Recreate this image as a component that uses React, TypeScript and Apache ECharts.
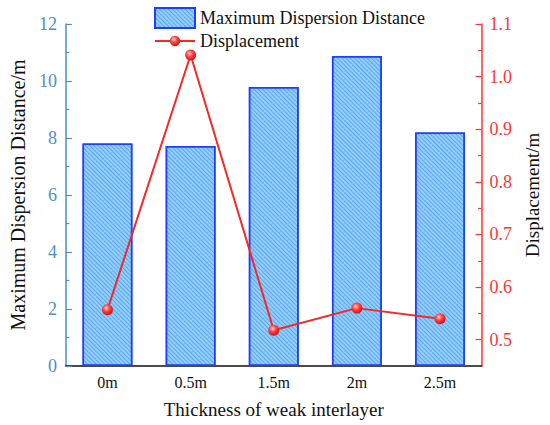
import React, { useEffect, useRef } from "react";
import * as echarts from "echarts";

const categories = ["0m", "0.5m", "1.5m", "2m", "2.5m"];
const dispersionDistance = [7.81, 7.72, 9.79, 10.88, 8.19];
const displacement = [0.557, 1.041, 0.518, 0.56, 0.54];
const rightMajorTicks = [0.5, 0.6, 0.7, 0.8, 0.9, 1.0, 1.1];
const rightMinorTicks = [0.55, 0.65, 0.75, 0.85, 0.95, 1.05];

const FONT = "Liberation Serif";
const LEFT_COLOR = "#4f8fc4";
const RIGHT_COLOR = "#ff3535";

export default function App() {
  const ref = useRef<HTMLDivElement>(null);
  useEffect(() => {
    if (!ref.current) return;
    const chart = echarts.init(ref.current, undefined, { renderer: "svg" });
    chart.setOption({
      animation: false,
      backgroundColor: "#ffffff",
      textStyle: { fontFamily: FONT },
      grid: { left: 62, right: 65, top: 24, bottom: 59 },
      legend: [
        {
          orient: "vertical",
          left: 154,
          top: 7,
          padding: 0,
          itemWidth: 40,
          itemHeight: 20,
          textStyle: { fontSize: 18, fontFamily: FONT, color: "#111" },
          data: [{ name: "Maximum Dispersion Distance", icon: "rect" }],
        },
        {
          orient: "vertical",
          left: 154,
          top: 32,
          padding: 0,
          itemWidth: 40,
          itemHeight: 13,
          textStyle: { fontSize: 18, fontFamily: FONT, color: "#111" },
          data: ["Displacement"],
        },
      ],
      xAxis: [
        {
          type: "category",
          data: categories,
          position: "bottom",
          name: "Thickness of weak interlayer",
          nameLocation: "middle",
          nameGap: 34,
          nameTextStyle: { fontSize: 19, fontFamily: FONT, color: "#111" },
          axisLine: { onZero: false, lineStyle: { color: "#111", width: 1.5 } },
          axisTick: { inside: true, alignWithLabel: true, length: 7, lineStyle: { color: "#111", width: 1.2 } },
          axisLabel: { fontSize: 16, fontFamily: FONT, color: "#111", margin: 8 },
          splitLine: { show: false },
        },
        {
          type: "category",
          data: categories,
          position: "bottom",
          axisLine: { show: false, onZero: false },
          axisTick: { inside: true, alignWithLabel: false, length: 4, lineStyle: { color: "#111", width: 1.2 } },
          axisLabel: { show: false },
          splitLine: { show: false },
        },
      ],
      yAxis: [
        {
          type: "value",
          position: "left",
          min: 0,
          max: 12,
          interval: 2,
          name: "Maximum Dispersion Distance/m",
          nameLocation: "middle",
          nameGap: 37,
          nameTextStyle: { fontSize: 20, fontFamily: FONT, color: "#111" },
          axisLine: { show: true, lineStyle: { color: LEFT_COLOR, width: 1.5 } },
          axisTick: { show: true, inside: true, length: 6, lineStyle: { color: LEFT_COLOR, width: 1.2 } },
          minorTick: { show: true, splitNumber: 2, length: 3.5, lineStyle: { color: LEFT_COLOR, width: 1.2 } },
          axisLabel: { fontSize: 18, fontFamily: FONT, color: LEFT_COLOR, margin: 9 },
          splitLine: { show: false },
        },
        {
          type: "value",
          position: "right",
          min: 0.45,
          max: 1.1,
          name: "Displacement/m",
          nameLocation: "middle",
          nameRotate: 90,
          nameGap: 40,
          nameTextStyle: { fontSize: 19, fontFamily: FONT, color: "#111" },
          axisLine: { show: true, lineStyle: { color: RIGHT_COLOR, width: 1.5 } },
          axisTick: { show: true, inside: true, length: 6, customValues: rightMajorTicks, lineStyle: { color: RIGHT_COLOR, width: 1.2 } },
          axisLabel: {
            fontSize: 18,
            fontFamily: FONT,
            color: RIGHT_COLOR,
            margin: 8,
            customValues: rightMajorTicks,
            formatter: (v: number) => v.toFixed(1),
          },
          splitLine: { show: false },
        },
        {
          type: "value",
          position: "right",
          min: 0.45,
          max: 1.1,
          axisLine: { show: false },
          axisTick: { show: true, inside: true, length: 3.5, customValues: rightMinorTicks, lineStyle: { color: RIGHT_COLOR, width: 1.2 } },
          axisLabel: { show: false },
          splitLine: { show: false },
        },
      ],
      series: [
        {
          name: "Maximum Dispersion Distance",
          type: "bar",
          xAxisIndex: 0,
          yAxisIndex: 0,
          barWidth: "60%",
          data: dispersionDistance,
          itemStyle: {
            color: "#90cefb",
            borderColor: "#1f3dff",
            borderWidth: 1.5,
            decal: {
              symbol: "rect",
              symbolSize: 1,
              dashArrayX: [1, 0],
              dashArrayY: [1, 2],
              rotation: Math.PI / 4,
              color: "rgba(45,115,215,0.45)",
            },
          },
          z: 2,
        },
        {
          name: "Displacement",
          type: "line",
          xAxisIndex: 0,
          yAxisIndex: 1,
          data: displacement,
          symbol: "circle",
          symbolSize: 11,
          lineStyle: { color: "#f52828", width: 2 },
          itemStyle: {
            color: {
              type: "radial",
              x: 0.4,
              y: 0.35,
              r: 0.65,
              colorStops: [
                { offset: 0, color: "#ffd0d0" },
                { offset: 0.45, color: "#ff4545" },
                { offset: 1, color: "#d81010" },
              ],
            },
            borderWidth: 0,
          },
          z: 5,
        },
      ],
    });
    return () => chart.dispose();
  }, []);
  return (
    <div
      ref={ref}
      style={{ position: "fixed", left: 0, top: 0, width: 550, height: 425 }}
    />
  );
}
